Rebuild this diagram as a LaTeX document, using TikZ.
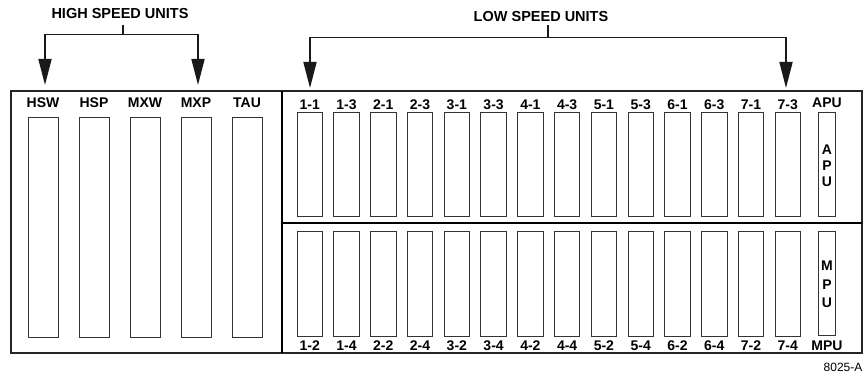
\documentclass[tikz,border=0pt]{standalone}
\usepackage{fontspec}
\setmainfont{Liberation Sans}
\usetikzlibrary{arrows.meta}
\begin{document}
\begin{tikzpicture}[x=1pt,y=-1pt,
  frame/.style={draw=black!85,line width=1.8pt},
  slot/.style={draw=black!80,line width=0.8pt,inner sep=0pt,rectangle},
  lbl/.style={font=\fontsize{14}{16}\selectfont\bfseries,inner sep=0pt},
  hdr/.style={font=\fontsize{14.5}{16}\selectfont\bfseries,inner sep=0pt},
  vlet/.style={font=\fontsize{14}{15}\selectfont\bfseries,inner sep=0pt},
  brk/.style={line width=1.7pt,black!90},
  arr/.style={brk,-{Triangle[length=26pt,width=13pt]}}]
\useasboundingbox (0,0) rectangle (864,377);
% frame
\draw[frame] (11,91) rectangle (862,353);
\draw[frame,black] (282,91) -- (282,353);
\draw[frame,black] (282,223) -- (862,223);
% high speed slots
\foreach \n [count=\i from 0] in {HSW,HSP,MXW,MXP,TAU}{
  \node[slot,minimum width=30pt,minimum height=220pt] (hs\i) at ({43+51*\i},227) {};
  \node[lbl] (hl\i) at ({43+51*\i},103) {\n};
}
% low speed slots
\foreach \n [count=\i from 0] in {1-1,1-3,2-1,2-3,3-1,3-3,4-1,4-3,5-1,5-3,6-1,6-3,7-1,7-3}{
  \node[slot,minimum width=25.5pt,minimum height=104pt] (ut\i) at ({309.75+36.77*\i},164) {};
  \node[lbl] (utl\i) at ({309.75+36.77*\i},105) {\n};
}
\foreach \n [count=\i from 0] in {1-2,1-4,2-2,2-4,3-2,3-4,4-2,4-4,5-2,5-4,6-2,6-4,7-2,7-4}{
  \node[slot,minimum width=25.5pt,minimum height=105pt] (ub\i) at ({309.75+36.77*\i},283.5) {};
  \node[lbl] (ubl\i) at ({309.75+36.77*\i},346) {\n};
}
% APU / MPU
\node[slot,minimum width=17.5pt,minimum height=104pt] (apu) at (827,164) {};
\node[lbl] (apul) at (827,103) {APU};
\node[vlet] (apuA) at (827,150) {A};
\node[vlet] (apuP) at (827,166) {P};
\node[vlet] (apuU) at (827,182) {U};
\node[slot,minimum width=17.5pt,minimum height=104pt] (mpu) at (827,283) {};
\node[lbl] (mpul) at (827,346) {MPU};
\node[vlet] (mpuM) at (827,266) {M};
\node[vlet] (mpuP) at (827,285) {P};
\node[vlet] (mpuU) at (827,303) {U};
% headers and brackets
\node[hdr] (hs) at (120,14) {HIGH SPEED UNITS};
\node[hdr] (ls) at (541,16.5) {LOW SPEED UNITS};
\coordinate (hsT) at (123,25);
\coordinate (hsB) at (123,34.5);
\coordinate (hsA) at (45,85);
\coordinate (hsC) at (198,85);
\draw[brk] (hsT) -- (hsB);
\draw[arr] (hsB) -| (hsA);
\draw[arr] (hsB) -| (hsC);
\coordinate (lsT) at (548,25);
\coordinate (lsB) at (548,37.5);
\coordinate (lsA) at (310,88);
\coordinate (lsC) at (786,88);
\draw[brk] (lsT) -- (lsB);
\draw[arr] (lsB) -| (lsA);
\draw[arr] (lsB) -| (lsC);
% figure id
\node[font=\fontsize{12}{13}\selectfont,inner sep=0pt] (fid) at (843,367) {8025-A};
\end{tikzpicture}
\end{document}
